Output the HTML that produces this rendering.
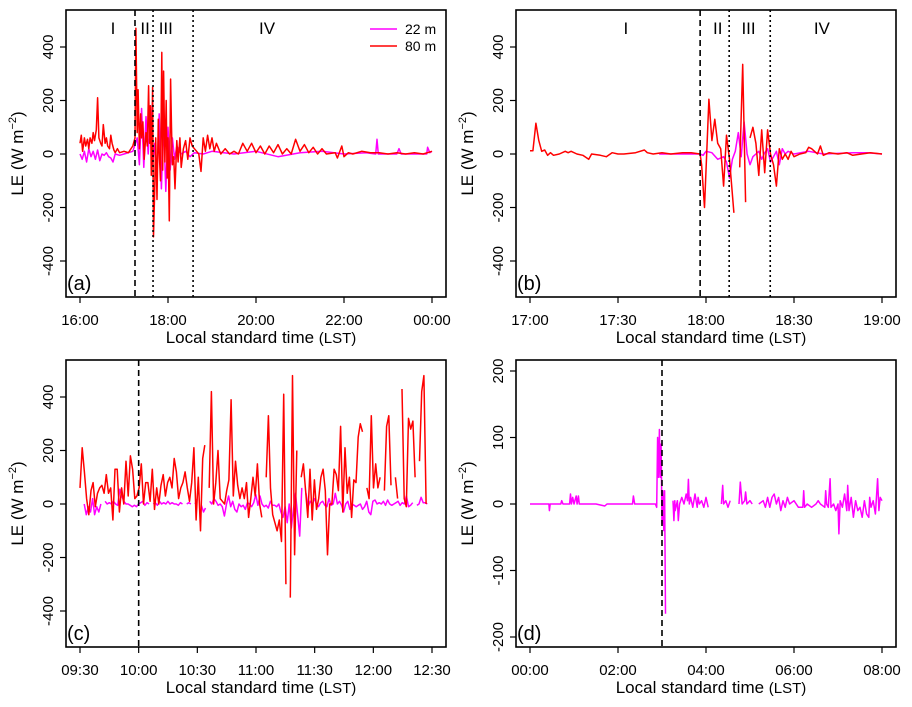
<!DOCTYPE html>
<html><head><meta charset="utf-8"><style>
body{margin:0;background:#fff}
svg{display:block;font-family:"Liberation Sans",sans-serif}
</style></head><body>
<svg id="chart" width="912" height="707" viewBox="0 0 912 707" xmlns="http://www.w3.org/2000/svg"></svg>
<script>
// ---- Panel (a): hours since 16:00 local time, LE values ----
const aT80 = [16.0,16.03,16.06,16.1,16.13,16.17,16.2,16.23,16.27,16.3,16.33,16.37,16.4,16.43,16.47,16.5,16.53,16.57,16.6,16.63,16.67,16.7,16.73,16.77,16.8,16.85,16.9,17.0,17.1,17.2,17.25,17.27,17.3,17.32,17.35,17.38,17.4,17.43,17.46,17.5,17.53,17.56,17.58,17.6,17.62,17.65,17.67,17.7,17.72,17.75,17.78,17.8,17.83,17.86,17.88,17.9,17.93,17.96,17.98,18.0,18.03,18.06,18.08,18.1,18.13,18.16,18.2,18.23,18.27,18.3,18.35,18.4,18.45,18.5,18.55,18.6,18.65,18.7,18.75,18.8,18.85,18.9,18.95,19.0,19.05,19.1,19.2,19.3,19.4,19.5,19.6,19.7,19.8,19.9,20.0,20.1,20.2,20.3,20.4,20.5,20.6,20.7,20.8,20.9,21.0,21.1,21.2,21.3,21.4,21.5,21.6,21.8,21.85,21.95,22.0,22.1,22.2,22.4,22.6,22.8,23.0,23.2,23.4,23.6,23.8,24.0];
const aV80 = [40,70,10,60,30,55,20,60,40,80,50,90,210,60,40,30,110,40,60,30,20,70,40,15,5,20,5,10,5,30,60,470,80,240,20,150,60,120,-20,80,30,255,40,180,-80,250,-310,-120,60,-170,130,10,-100,380,-60,310,-30,200,-90,60,-250,280,100,-40,-10,-130,50,-30,60,-50,20,50,-20,60,30,20,10,0,-65,60,10,70,20,60,10,40,0,20,0,10,0,40,10,40,5,30,0,30,5,35,0,20,0,55,10,35,5,25,0,20,0,5,-15,30,-10,5,0,10,5,5,0,5,0,5,0,10];
const aT22 = [16.0,16.05,16.1,16.15,16.2,16.25,16.3,16.35,16.4,16.45,16.5,16.55,16.6,16.65,16.7,16.75,16.8,16.9,17.0,17.1,17.2,17.3,17.35,17.4,17.45,17.5,17.55,17.6,17.65,17.7,17.75,17.8,17.85,17.9,17.95,18.0,18.05,18.1,18.15,18.2,18.3,18.4,18.5,18.6,18.8,19.0,19.5,20.0,20.5,21.0,21.5,22.0,22.5,22.72,22.75,22.78,23.2,23.25,23.3,23.88,23.9,23.95,24.0];
const aV22 = [0,-20,10,-30,20,-10,10,-20,15,-25,0,-5,5,-10,-15,-30,0,-5,0,5,10,60,-40,170,-50,140,0,180,-40,40,-80,150,-130,120,-140,100,-60,60,-20,30,0,10,-10,5,0,10,0,10,-10,5,10,0,5,0,55,0,0,20,0,0,25,5,10];
// ---- Panel (b): minutes since 17:00 ----
const bT80 = [0,1,2,3,4,5,6,7,8,10,12,13,14,16,18,20,21,24,26,28,30,32,36,39,40,42,45,48,52,55,58,58.5,59.5,61,62,63,64,65,66,67,68,69.5,70,71.5,72.5,73.5,74,75,76,77,78,79,80,81,82,83,84,85,86,87,88,89,90,92,94,95,96,97,98,99,100,102,105,108,110,113,116,120];
const bV80 = [12,12,115,50,10,15,-5,5,-5,0,10,5,10,0,-5,-20,0,-5,-10,5,0,0,5,15,5,0,5,0,5,5,0,-40,-200,205,50,130,40,20,-120,70,-20,-220,null,-50,335,-180,null,60,100,40,-80,90,-70,90,0,-40,-120,20,-20,0,-20,10,-10,0,5,25,20,10,0,30,-5,5,0,5,-5,0,5,0,0];
const bT22 = [44,50,55,58,59,60,62,64,66,67,68,69,70,71,72,73,74,75,76,77,78,79,80,81,82,83,84,85,86,87,88,90,95,100,110,115,120];
const bV22 = [0,0,0,0,-5,10,5,-20,-10,-30,-90,-20,10,80,-10,120,0,-40,-10,0,10,-20,5,20,-30,-10,10,-40,20,0,10,0,10,0,5,5,0];
// ---- Panel (c): regular samples from 09:30, step in minutes ----
const cStep80 = 1.12;
const cStep22 = 1.07;
const cV80 = [60,210,120,20,-40,50,80,-10,40,60,70,40,110,40,60,-60,130,130,-30,60,0,160,30,180,130,20,30,60,150,0,80,80,10,130,-20,60,0,70,110,30,80,100,60,170,120,20,60,80,120,60,10,80,210,-60,100,-100,170,220,null,60,420,0,80,200,20,10,0,50,90,390,30,160,70,20,60,20,80,-50,20,100,30,150,0,-50,null,100,330,60,-40,-70,-100,-60,-140,410,-300,null,-350,480,-190,200,null,100,150,50,-50,130,-60,90,-20,20,100,130,50,-190,0,0,130,110,50,290,-30,210,40,100,-50,90,80,250,300,270,null,60,20,330,60,150,60,100,null,50,290,330,70,null,100,20,null,430,20,-10,320,280,310,100,null,160,420,480,0];
const cV22 = [null,null,0,-40,-10,-30,20,-40,-10,-30,0,null,10,0,5,0,10,0,-5,55,30,10,0,0,-5,-10,-5,-10,0,5,10,-5,5,0,null,0,5,-5,10,0,5,0,10,0,5,0,0,-5,5,0,null,0,5,0,null,0,20,null,-5,-30,-15,null,10,0,20,10,-5,0,-10,-45,0,30,-10,10,-20,-30,0,-10,-5,-20,5,0,-10,5,35,-5,30,0,-10,-5,-15,10,-5,-5,-10,0,-30,-50,-10,-70,0,-90,-20,40,-40,-120,60,null,40,-10,10,0,20,0,-10,5,10,-5,-10,20,-5,0,40,0,10,-5,-30,0,10,-20,0,-5,-10,-5,0,-20,-10,10,-30,-40,10,15,0,5,0,10,-5,15,0,-5,0,5,10,-5,5,0,30,-10,-5,5,null,-5,0,25,5,5,0];
// ---- Panel (d): hours since 00:00 ----
const dT22 = [0,0.3,0.43,0.44,0.46,0.7,0.72,0.75,0.9,0.92,0.94,0.97,1.0,1.05,1.07,1.1,1.12,1.2,1.5,1.7,1.75,2.0,2.33,2.35,2.38,2.6,2.85,2.88,2.9,2.92,2.94,2.96,2.98,3.0,3.02,3.04,3.06,3.08,3.1,3.25,3.27,3.29,3.3,3.35,3.37,3.4,3.45,3.5,3.55,3.58,3.6,3.62,3.65,3.7,3.75,3.8,3.82,3.85,3.9,3.95,4.0,4.05,4.08,4.35,4.38,4.4,4.45,4.5,4.55,4.57,4.75,4.78,4.82,4.88,4.9,4.93,5.0,5.05,5.08,5.2,5.3,5.35,5.4,5.45,5.5,5.55,5.6,5.65,5.7,5.75,5.8,5.85,5.9,6.0,6.1,6.2,6.22,6.24,6.3,6.4,6.5,6.55,6.6,6.7,6.72,6.74,6.78,6.82,6.84,6.9,6.95,7.0,7.02,7.05,7.1,7.15,7.2,7.22,7.25,7.3,7.35,7.4,7.45,7.5,7.55,7.6,7.65,7.7,7.72,7.75,7.8,7.85,7.9,7.93,7.96,8.0];
const dV22 = [0,0,0,-10,0,0,5,0,0,15,0,10,0,12,0,12,0,0,0,-3,0,0,0,12,0,0,0,-5,100,40,112,40,90,-30,20,-40,20,-165,null,5,-25,5,-10,5,-25,0,10,0,15,5,37,0,10,-5,15,-5,10,0,5,-5,10,-5,null,0,28,0,5,-5,5,null,0,33,0,5,18,0,5,0,null,0,5,-5,10,-5,10,15,0,10,-10,5,-5,10,0,5,-5,-5,20,-5,0,-5,0,5,0,-5,20,0,-5,38,-5,0,-10,0,-45,5,-5,15,-10,28,-10,10,-20,5,-10,-5,-20,5,-15,-20,10,-5,5,-15,38,-10,10,5];

const xTicksA = ["16:00","18:00","20:00","22:00","00:00"];
const xTicksB = ["17:00","17:30","18:00","18:30","19:00"];
const xTicksC = ["09:30","10:00","10:30","11:00","11:30","12:00","12:30"];
const xTicksD = ["00:00","02:00","04:00","06:00","08:00"];
const yTicksABC = [-400,-200,0,200,400];
const yTicksD = [-200,-100,0,100,200];

const svg = document.getElementById('chart');
const NS = 'http://www.w3.org/2000/svg';
function el(tag, attrs, parent){const e=document.createElementNS(NS,tag);for(const k in attrs)e.setAttribute(k,attrs[k]);(parent||svg).appendChild(e);return e;}

function panel(cfg){
  const g = el('g',{});
  
  
  const X = v => cfg.px0 + (v - cfg.x0) / (cfg.x1 - cfg.x0) * (cfg.px1 - cfg.px0);
  const Y = v => cfg.py0 + (v - cfg.y0) / (cfg.y1 - cfg.y0) * (cfg.py1 - cfg.py0);
  cfg.series.forEach(s => {
    let d = '', pen = false;
    for (let i = 0; i < s.t.length; i++) {
      const v = s.v[i];
      if (v === null || v === undefined) { pen = false; continue; }
      d += (pen ? 'L' : 'M') + X(s.t[i]).toFixed(1) + ' ' + Y(v).toFixed(1);
      pen = true;
    }
    const p = el('path', {d: d, fill: 'none', stroke: s.color, 'stroke-width': 1.5, 'stroke-linejoin': 'round'}, g);
    
    
  });
  (cfg.vlines || []).forEach(vl => {
    const l = el('line', {x1: X(vl.x), x2: X(vl.x), y1: cfg.by0, y2: cfg.by1, stroke: '#000', 'stroke-width': 1.6, 'stroke-dasharray': vl.dash}, g);
    
    
  });
  const box = el('rect', {x: cfg.bx0, y: cfg.by0, width: cfg.bx1 - cfg.bx0, height: cfg.by1 - cfg.by0, fill: 'none', stroke: '#000', 'stroke-width': 1.6}, g);
  
  
  cfg.xticks.forEach((lab, i) => {
    const v = cfg.x0 + i * (cfg.x1 - cfg.x0) / (cfg.xticks.length - 1);
    const x = X(v);
    el('line', {x1: x, x2: x, y1: cfg.by1, y2: cfg.by1 + 6, stroke: '#000', 'stroke-width': 1.2}, g);
    const t = el('text', {x: x, y: cfg.by1 + 28, 'text-anchor': 'middle', 'font-size': 15}, g);
    t.textContent = lab;
    
    
  });
  cfg.yticks.forEach(v => {
    const y = Y(v);
    el('line', {x1: cfg.bx0, x2: cfg.bx0 - 6, y1: y, y2: y, stroke: '#000', 'stroke-width': 1.2}, g);
    const t = el('text', {x: cfg.bx0 - 13, y: y, 'text-anchor': 'middle', 'font-size': 15, transform: 'rotate(-90 ' + (cfg.bx0 - 13) + ' ' + y + ')'}, g);
    t.textContent = v;
    
    
  });
  const xt = el('text', {x: (cfg.bx0 + cfg.bx1) / 2 + 5, y: cfg.by1 + 46, 'text-anchor': 'middle', 'font-size': 17}, g);
  xt.innerHTML = 'Local standard time <tspan font-size="15">(LST)</tspan>';
  
  
  const cy = (cfg.by0 + cfg.by1) / 2, cx = cfg.bx0 - 43;
  const yt = el('text', {x: cx, y: cy, 'text-anchor': 'middle', 'font-size': 17, transform: 'rotate(-90 ' + cx + ' ' + cy + ')'}, g);
  yt.innerHTML = 'LE <tspan font-size="17">(W  m</tspan><tspan font-size="11" dy="-7">−2</tspan><tspan font-size="17" dy="7">)</tspan>';
  
  
  const pl = el('text', {x: cfg.bx0 + 1, y: cfg.by1 - 7, 'font-size': 20}, g);
  pl.textContent = cfg.label;
  
  
  (cfg.stages || []).forEach(s => {
    const t = el('text', {x: X(s.x), y: 34, 'text-anchor': 'middle', 'font-size': 17}, g);
    t.textContent = s.t;
    
    
  });
  return g;
}

panel({name:'panel-a', label:'(a)', bx0:66, bx1:446, by0:10, by1:297, px0:80, px1:432, x0:16, x1:24, py0:154, py1:47, y0:0, y1:400,
  xticks:xTicksA, yticks:yTicksABC,
  series:[{name:'series-22m', color:'#ff00ff', t:aT22, v:aV22},{name:'series-80m', color:'#ff0000', t:aT80, v:aV80}],
  vlines:[{x:17.25,dash:'6 4',name:'stage-divider-dashed'},{x:17.66,dash:'2 3',name:'stage-divider-dotted'},{x:18.57,dash:'2 3',name:'stage-divider-dotted'}],
  stages:[{x:16.75,t:'I'},{x:17.48,t:'II'},{x:17.95,t:'III'},{x:20.25,t:'IV'}]});
panel({name:'panel-b', label:'(b)', bx0:516, bx1:896, by0:10, by1:297, px0:530, px1:882, x0:0, x1:120, py0:154, py1:47, y0:0, y1:400,
  xticks:xTicksB, yticks:yTicksABC,
  series:[{name:'series-22m', color:'#ff00ff', t:bT22, v:bV22},{name:'series-80m', color:'#ff0000', t:bT80, v:bV80}],
  vlines:[{x:58,dash:'6 4',name:'stage-divider-dashed'},{x:67.9,dash:'2 3',name:'stage-divider-dotted'},{x:81.9,dash:'2 3',name:'stage-divider-dotted'}],
  stages:[{x:32.7,t:'I'},{x:64,t:'II'},{x:74.5,t:'III'},{x:99.5,t:'IV'}]});
const cT80 = cV80.map((_, i) => i * cStep80);
const cT22 = cV22.map((_, i) => i * cStep22);
panel({name:'panel-c', label:'(c)', bx0:66, bx1:446, by0:360, by1:647, px0:80, px1:432, x0:0, x1:180, py0:504, py1:397, y0:0, y1:400,
  xticks:xTicksC, yticks:yTicksABC,
  series:[{name:'series-22m', color:'#ff00ff', t:cT22, v:cV22},{name:'series-80m', color:'#ff0000', t:cT80, v:cV80}],
  vlines:[{x:30,dash:'6 4',name:'stage-divider-dashed'}]});
panel({name:'panel-d', label:'(d)', bx0:516, bx1:896, by0:360, by1:647, px0:530, px1:882, x0:0, x1:8, py0:504, py1:371, y0:0, y1:200,
  xticks:xTicksD, yticks:yTicksD,
  series:[{name:'series-22m', color:'#ff00ff', t:dT22, v:dV22}],
  vlines:[{x:3,dash:'6 4',name:'stage-divider-dashed'}]});

const lg = el('g', {});


[['22 m','#ff00ff',29],['80 m','#ff0000',46]].forEach(([lab, col, y]) => {
  const e = el('g', {}, lg);
  
  
  el('line', {x1: 370, x2: 397, y1: y, y2: y, stroke: col, 'stroke-width': 1.5}, e);
  const t = el('text', {x: 405, y: y + 5, 'font-size': 14}, e);
  t.textContent = lab;
});
</script>
</body></html>
